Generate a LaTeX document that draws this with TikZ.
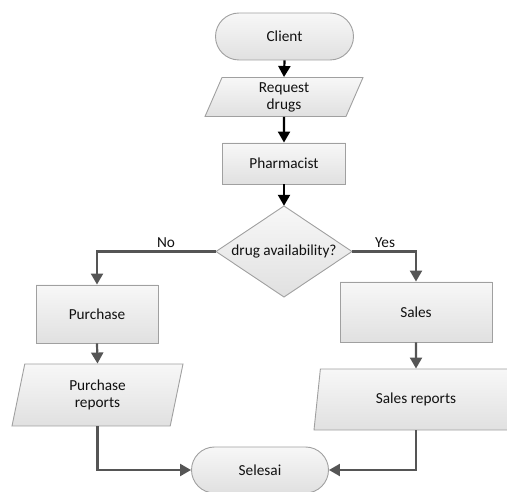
\documentclass[tikz,border=0pt]{standalone}
\usepackage{fontspec}
\setmainfont{Carlito}
\usetikzlibrary{shapes.geometric,shapes.misc,arrows.meta}
\definecolor{boxline}{HTML}{A0A0A0}
\definecolor{txt}{HTML}{111111}
\definecolor{arrdark}{HTML}{555555}
\tikzset{
  shade box/.style={draw=boxline, line width=0.9pt, top color=white!97!black, bottom color=white!88!black},
  base/.style={shade box, text=txt, font=\fontsize{15.3}{17}\selectfont, align=center, inner sep=0pt},
  term/.style={base, rounded rectangle},
  procbox/.style={base, rectangle},
  iobox/.style={base, trapezium, trapezium stretches body=true},
  lbl/.style={text=txt, font=\fontsize{15.3}{17}\selectfont, inner sep=0pt, align=center},
  arr/.style={line width=2.2pt, -{Triangle[width=12pt,length=11pt]}},
  arrblack/.style={arr, draw=black},
  arrgray/.style={arr, draw=arrdark}
}
\begin{document}
\begin{tikzpicture}[x=1pt,y=-1pt]
\useasboundingbox (0,0) rectangle (507,492);
\node[term, minimum width=138pt, minimum height=47pt] (client) at (284.5,36.5) {Client};
\node[iobox, trapezium left angle=60, trapezium right angle=120, minimum width=158pt, minimum height=39pt] (req) at (284,97) {Request\\drugs};
\node[procbox, minimum width=123pt, minimum height=41pt] (pharm) at (284,163.5) {Pharmacist};
% decision diamond
\coordinate (dn) at (284,206);
\coordinate (de) at (352,251.5);
\coordinate (ds) at (284,297);
\coordinate (dw) at (216,251.5);
\path[shade box] (dn) -- (de) -- (ds) -- (dw) -- cycle;
\node[lbl, minimum width=136pt, minimum height=91pt] (dec) at (284,251.5) {drug availability?};
\node[procbox, minimum width=122pt, minimum height=58pt] (purch) at (97,314) {Purchase};
\node[procbox, minimum width=152pt, minimum height=60pt] (sales) at (416,312) {Sales};
\node[iobox, trapezium left angle=67, trapezium right angle=113, minimum width=171pt, minimum height=62pt] (prep) at (97.5,395) {Purchase\\reports};
\node[iobox, trapezium left angle=64, trapezium right angle=116, minimum width=204pt, minimum height=61pt] (srep) at (416,399.5) {Sales reports};
\node[term, minimum width=137pt, minimum height=46pt] (end) at (260,470) {Selesai};

\draw[arrblack] (client.south) -- (req.north);
\draw[arrblack] (req.south) -- (pharm.north);
\draw[arrblack] (pharm.south) -- (dec.north);
\draw[arrgray] (dec.west) -| (purch.north);
\draw[arrgray] (dec.east) -| (sales.north);
\draw[arrgray] (purch.south) -- (prep.north);
\draw[arrgray] (sales.south) -- (srep.north);
\draw[arrgray] (prep.south) |- (end.west);
\draw[arrgray] (srep.south) |- (end.east);
\node[lbl] (no) at (166,243) {No};
\node[lbl] (yes) at (385,243) {Yes};
\end{tikzpicture}
\end{document}
